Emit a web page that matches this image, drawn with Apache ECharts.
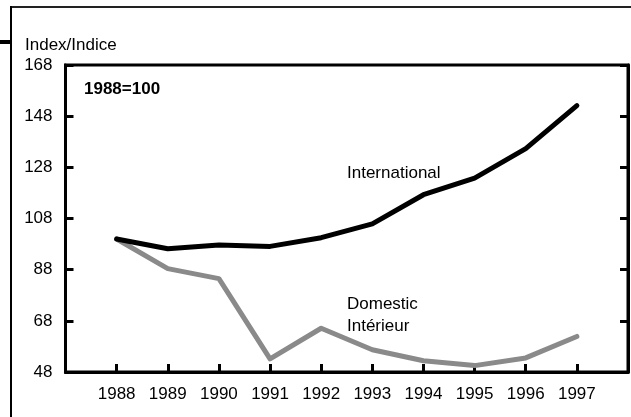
<!DOCTYPE html>
<html>
<head>
<meta charset="utf-8">
<script src="https://cdn.jsdelivr.net/npm/echarts@6/dist/echarts.min.js"></script>
<style>
html,body{margin:0;padding:0;background:#fff;}
#c{width:631px;height:417px;}
</style>
</head>
<body>
<div id="c"></div>
<script>
var years = [1988, 1989, 1990, 1991, 1992, 1993, 1994, 1995, 1996, 1997];
var international = [100, 96.2, 97.6, 97.1, 100.5, 105.9, 117.3, 123.8, 135.3, 152.1];
var domestic = [100, 88.4, 84.5, 53.1, 65.1, 56.7, 52.4, 50.5, 53.5, 61.9];
var yTicks = [48, 68, 88, 108, 128, 148, 168];

function pairs(vals) { return years.map(function (y, i) { return [y, vals[i]]; }); }

var FONT = '"Liberation Sans", Arial, sans-serif';
var chart = echarts.init(document.getElementById('c'), null, {renderer: 'canvas'});
chart.setOption({
  animation: false,
  backgroundColor: '#fff',
  textStyle: {fontFamily: FONT},
  grid: {
    left: 65.5, top: 65, right: 2.5, bottom: 45,
    show: true, borderColor: '#000', borderWidth: 3, backgroundColor: '#fff'
  },
  xAxis: {
    type: 'value', min: years[0] - 1, max: years[years.length - 1] + 1, interval: 1,
    splitLine: {show: false},
    axisLine: {show: true, lineStyle: {color: '#000', width: 3}},
    axisTick: {show: true, inside: true, length: 8, lineStyle: {color: '#000', width: 3}},
    axisLabel: {
      margin: 14, color: '#000', fontSize: 17, fontFamily: FONT,
      showMinLabel: true, showMaxLabel: true,
      formatter: function (v) { return years.indexOf(v) >= 0 ? String(v) : ''; }
    }
  },
  yAxis: [{
    type: 'value', min: yTicks[0], max: yTicks[yTicks.length - 1], interval: 20,
    splitLine: {show: false},
    axisLine: {show: true, lineStyle: {color: '#000', width: 3}},
    axisTick: {show: true, inside: true, length: 8, lineStyle: {color: '#000', width: 3}},
    axisLabel: {margin: 13, color: '#000', fontSize: 17, fontFamily: FONT, padding: [2, 0, 0, 0]}
  }, {
    type: 'value', position: 'right', min: yTicks[0], max: yTicks[yTicks.length - 1], interval: 20,
    splitLine: {show: false},
    axisLine: {show: true, lineStyle: {color: '#000', width: 3}},
    axisTick: {show: true, inside: true, length: 8, lineStyle: {color: '#000', width: 3}},
    axisLabel: {show: false}
  }],
  series: [{
    name: 'Domestic', type: 'line', data: pairs(domestic), symbol: 'none',
    lineStyle: {color: '#8a8a8a', width: 5, cap: 'round', join: 'round'}, z: 2
  }, {
    name: 'International', type: 'line', data: pairs(international), symbol: 'none',
    lineStyle: {color: '#000', width: 5, cap: 'round', join: 'round'}, z: 3
  }],
  graphic: [
    {type: 'line', shape: {x1: 11, y1: 7, x2: 631, y2: 7}, style: {stroke: '#222', lineWidth: 2}},
    {type: 'line', shape: {x1: 11, y1: 6, x2: 11, y2: 417}, style: {stroke: '#000', lineWidth: 2}},
    {type: 'rect', shape: {x: 0, y: 40, width: 11, height: 4}, style: {fill: '#000'}},
    {type: 'text', left: 25, top: 37, style: {text: 'Index/Indice', font: '17px ' + FONT, fill: '#000'}},
    {type: 'text', left: 84, top: 81, style: {text: '1988=100', font: 'bold 17px ' + FONT, fill: '#000'}},
    {type: 'text', left: 347, top: 165, style: {text: 'International', font: '17px ' + FONT, fill: '#000'}},
    {type: 'text', left: 347, top: 296, style: {text: 'Domestic', font: '17px ' + FONT, fill: '#000'}},
    {type: 'text', left: 347, top: 318, style: {text: 'Intérieur', font: '17px ' + FONT, fill: '#000'}}
  ]
});
</script>
</body>
</html>
